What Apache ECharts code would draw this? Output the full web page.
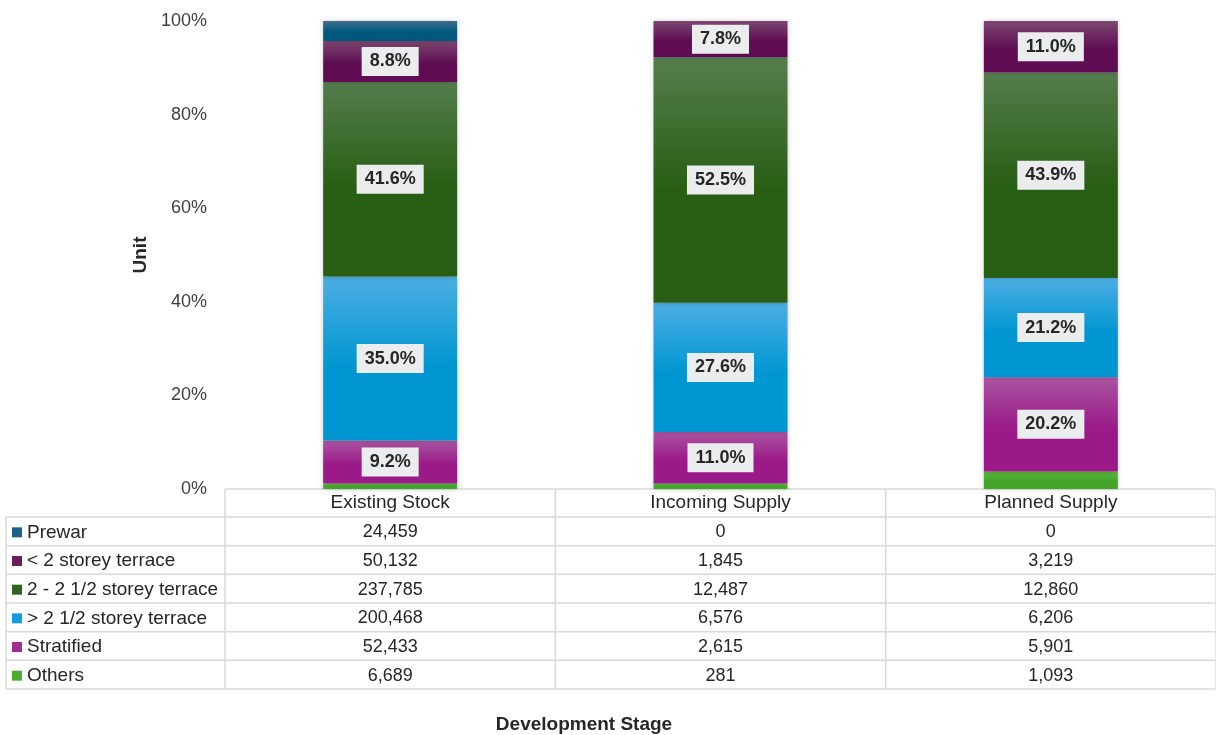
<!DOCTYPE html>
<html>
<head>
<meta charset="utf-8">
<style>
  html, body { margin: 0; padding: 0; background: #fff; }
  #chart { width: 1216px; height: 735px; }
</style>
<script src="https://cdn.jsdelivr.net/npm/echarts@6/dist/echarts.min.js"></script>
</head>
<body>
<div id="chart"></div>
<script>
// development stages (x categories)
var stages = ["Existing Stock", "Incoming Supply", "Planned Supply"];

// unit counts per dwelling type, one value per stage (as in the data table)
var prewar = [24459, 0, 0];
var lt2Storey = [50132, 1845, 3219];
var mid2Storey = [237785, 12487, 12860];
var gt2Storey = [200468, 6576, 6206];
var stratified = [52433, 2615, 5901];
var others = [6689, 281, 1093];

var yTicks = [0, 20, 40, 60, 80, 100];

// table rows, top to bottom
var rows = [
  { name: "Prewar", data: prewar, top: "#3F6F8C", bottom: "#00587F", key: "#1A6389" },
  { name: "< 2 storey terrace", data: lt2Storey, top: "#7B4770", bottom: "#5F0C52", key: "#6A1E5D" },
  { name: "2 - 2 1/2 storey terrace", data: mid2Storey, top: "#557D4D", bottom: "#285E13", key: "#2F6421" },
  { name: "> 2 1/2 storey terrace", data: gt2Storey, top: "#4DAEE3", bottom: "#0096D1", key: "#139DD9" },
  { name: "Stratified", data: stratified, top: "#AA55A0", bottom: "#991A88", key: "#A02B91" },
  { name: "Others", data: others, top: "#5DB83D", bottom: "#45A52B", key: "#4CAC31" }
];

var FONT = "'Liberation Sans', Arial, sans-serif";
var TXT = "#262626";
var LINE = "#d9d9d9";

// column totals for the 100% stack
var totals = stages.map(function (s, i) {
  return rows.reduce(function (sum, r) { return sum + r.data[i]; }, 0);
});

var chart = echarts.init(document.getElementById("chart"));

// stack from bottom: Others first
var series = rows.slice().reverse().map(function (r) {
  return {
    name: r.name,
    type: "bar",
    stack: "share",
    barWidth: 134,
    data: r.data.map(function (v, i) {
      var pct = (v / totals[i]) * 100;
      return { value: pct, label: { show: pct >= 5 } };
    }),
    itemStyle: {
      color: new echarts.graphic.LinearGradient(0, 0, 0, 1, [
        { offset: 0, color: r.top },
        { offset: 0.55, color: r.bottom },
        { offset: 1, color: r.bottom }
      ]),
      shadowBlur: 5,
      shadowColor: "rgba(0,0,0,0.25)"
    },
    label: {
      show: true,
      position: "inside",
      formatter: function (p) { return p.value.toFixed(1) + "%"; },
      backgroundColor: "#EBECEE",
      padding: [6, 8, 5, 8],
      color: TXT,
      fontFamily: FONT,
      fontWeight: "bold",
      fontSize: 18
    }
  };
});

// data table drawn under the plot
var graphics = [];
var tLeft = 6, tAxis = 225, tRight = 1215, tTop = 489, rowTop = 517, rowH = 28.67;
var colW = (tRight + 1 - tAxis) / stages.length;
var tBottom = rowTop + rowH * rows.length;

function hline(x1, x2, y) {
  graphics.push({ type: "line", silent: true, shape: { x1: x1, y1: y, x2: x2, y2: y },
    style: { stroke: LINE, lineWidth: 1.5 } });
}
function vline(x, y1, y2) {
  graphics.push({ type: "line", silent: true, shape: { x1: x, y1: y1, x2: x, y2: y2 },
    style: { stroke: LINE, lineWidth: 1.5 } });
}

hline(tAxis, tRight, tTop);
for (var k = 0; k <= rows.length; k++) hline(tLeft, tRight, rowTop + rowH * k);
vline(tLeft, rowTop, tBottom);
for (var c = 0; c <= stages.length; c++) vline(tAxis + colW * c, tTop, tBottom);

rows.forEach(function (r, ri) {
  var cy = rowTop + rowH * ri + rowH / 2 + 1;
  graphics.push({ type: "rect", silent: true, shape: { x: 12, y: cy - 5, width: 10, height: 10 },
    style: { fill: r.key } });
  graphics.push({ type: "text", silent: true, x: 27, y: cy,
    style: { text: r.name, fill: TXT, font: "19px " + FONT, textVerticalAlign: "middle" } });
  r.data.forEach(function (v, ci) {
    graphics.push({ type: "text", silent: true, x: tAxis + colW * ci + colW / 2, y: cy,
      style: { text: v.toLocaleString("en-US"), fill: TXT, font: "18px " + FONT,
        textAlign: "center", textVerticalAlign: "middle" } });
  });
});

graphics.push({ type: "text", silent: true, x: 584, y: 725,
  style: { text: "Development Stage", fill: TXT, font: "bold 19px " + FONT,
    textAlign: "center", textVerticalAlign: "middle" } });

chart.setOption({
  animation: false,
  textStyle: { fontFamily: FONT },
  grid: { left: 225, right: 0, top: 21, bottom: 246 },
  xAxis: {
    type: "category",
    data: stages,
    axisLine: { show: false },
    axisTick: { show: false },
    axisLabel: { color: TXT, fontSize: 19, margin: 4, fontFamily: FONT }
  },
  yAxis: {
    type: "value",
    min: yTicks[0],
    max: yTicks[yTicks.length - 1],
    interval: 20,
    name: "Unit",
    nameLocation: "middle",
    nameRotate: 90,
    nameGap: 73,
    nameTextStyle: { color: TXT, fontSize: 19, fontWeight: "bold", fontFamily: FONT },
    axisLine: { show: false },
    axisTick: { show: false },
    splitLine: { show: false },
    axisLabel: { color: "#404040", fontSize: 18, margin: 18, fontFamily: FONT, formatter: "{value}%" }
  },
  series: series,
  graphic: graphics
});
</script>
</body>
</html>
